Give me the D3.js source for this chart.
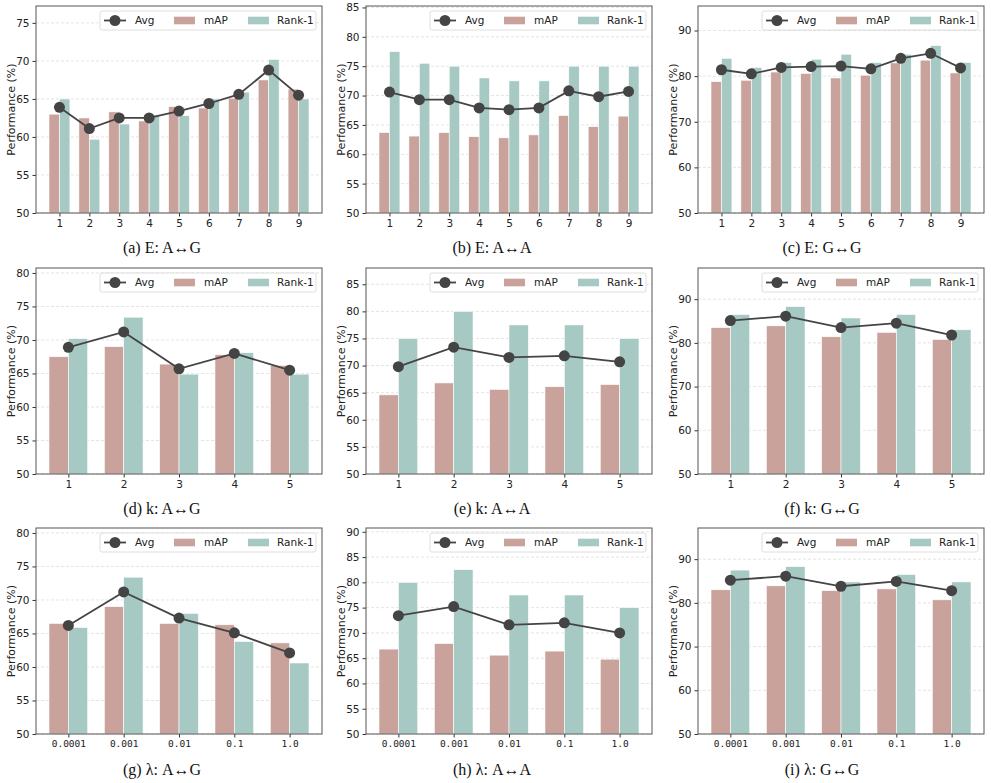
<!DOCTYPE html>
<html>
<head>
<meta charset="utf-8">
<script src="https://cdn.jsdelivr.net/npm/d3@7"></script>
<style>
body{margin:0;background:#fff}
text{font-family:"DejaVu Sans",sans-serif}
</style>
</head>
<body>
<svg width="991" height="783"></svg>
<script>
// x 轴标签
var xLabelsE = ["1","2","3","4","5","6","7","8","9"];
var xLabelsK = ["1","2","3","4","5"];
var xLabelsL = ["0.0001","0.001","0.01","0.1","1.0"];

// (a) E: A<->G
var mapEAG  = [63.0, 62.5, 63.3, 62.1, 64.0, 63.8, 65.1, 67.5, 66.3];
var rankEAG = [65.0, 59.7, 61.7, 62.9, 62.8, 65.0, 65.9, 70.2, 65.0];
var avgEAG  = [63.9, 61.1, 62.5, 62.5, 63.4, 64.4, 65.6, 68.8, 65.5];
// (b) E: A<->A
var mapEAA  = [63.7, 63.1, 63.7, 63.0, 62.8, 63.3, 66.6, 64.7, 66.5];
var rankEAA = [77.5, 75.5, 75.0, 73.0, 72.5, 72.5, 75.0, 75.0, 75.0];
var avgEAA  = [70.6, 69.3, 69.3, 67.9, 67.6, 67.9, 70.8, 69.8, 70.7];
// (c) E: G<->G
var mapEGG  = [78.8, 79.1, 80.9, 80.6, 79.6, 80.2, 82.9, 83.5, 80.7];
var rankEGG = [83.9, 81.9, 83.0, 83.7, 84.8, 83.0, 84.8, 86.7, 83.0];
var avgEGG  = [81.4, 80.5, 81.9, 82.1, 82.2, 81.6, 83.9, 85.0, 81.8];
// (d) k: A<->G
var mapKAG  = [67.5, 69.0, 66.4, 67.8, 66.2];
var rankKAG = [70.2, 73.4, 64.9, 68.1, 64.9];
var avgKAG  = [68.9, 71.2, 65.7, 68.0, 65.5];
// (e) k: A<->A
var mapKAA  = [64.6, 66.8, 65.6, 66.1, 66.5];
var rankKAA = [75.0, 80.0, 77.5, 77.5, 75.0];
var avgKAA  = [69.8, 73.4, 71.5, 71.8, 70.7];
// (f) k: G<->G
var mapKGG  = [83.5, 83.9, 81.4, 82.4, 80.8];
var rankKGG = [86.5, 88.3, 85.7, 86.5, 83.0];
var avgKGG  = [85.1, 86.1, 83.5, 84.5, 81.8];
// (g) λ: A<->G
var mapLAG  = [66.5, 69.0, 66.5, 66.3, 63.6];
var rankLAG = [65.9, 73.4, 68.0, 63.8, 60.6];
var avgLAG  = [66.2, 71.2, 67.3, 65.1, 62.1];
// (h) λ: A<->A
var mapLAA  = [66.8, 67.9, 65.6, 66.4, 64.8];
var rankLAA = [80.0, 82.5, 77.5, 77.5, 75.0];
var avgLAA  = [73.4, 75.2, 71.6, 72.0, 70.0];
// (i) λ: G<->G
var mapLGG  = [83.0, 83.9, 82.8, 83.2, 80.7];
var rankLGG = [87.5, 88.3, 84.8, 86.5, 84.8];
var avgLGG  = [85.2, 86.1, 83.8, 84.9, 82.8];

var captions = ["(a) E: A↔G","(b) E: A↔A","(c) E: G↔G",
                "(d) k: A↔G","(e) k: A↔A","(f) k: G↔G",
                "(g) λ: A↔G","(h) λ: A↔A","(i) λ: G↔G"];
var yTickStep = [5, 5, 10, 5, 5, 10, 5, 5, 10];

var panels = [
  [xLabelsE, mapEAG, rankEAG, avgEAG],
  [xLabelsE, mapEAA, rankEAA, avgEAA],
  [xLabelsE, mapEGG, rankEGG, avgEGG],
  [xLabelsK, mapKAG, rankKAG, avgKAG],
  [xLabelsK, mapKAA, rankKAA, avgKAA],
  [xLabelsK, mapKGG, rankKGG, avgKGG],
  [xLabelsL, mapLAG, rankLAG, avgLAG],
  [xLabelsL, mapLAA, rankLAA, avgLAA],
  [xLabelsL, mapLGG, rankLGG, avgLGG]
];

var svg = d3.select('svg');
var colMap = '#c9a39b', colRank = '#a7c9c3', colAvg = '#444444';
// 每个子图的绘图区位置
var cols = [[36,322],[366,652],[698,984]];
var rows = [[6,213],[268,474],[528,734]];
var capX = [162, 492, 822];
var capY = [253, 514, 775];
var bw = 0.35;

panels.forEach(function(p, k) {
  var labels = p[0], mAP = p[1], rank = p[2], avg = p[3];
  var c = k % 3, r = Math.floor(k / 3);
  var x0 = cols[c][0], x1 = cols[c][1], y0 = rows[r][0], y1 = rows[r][1];
  var n = labels.length;
  var lo = 1 - bw, hi = n + bw, m = (hi - lo) * 0.05;
  var x = d3.scaleLinear().domain([lo - m, hi + m]).range([x0, x1]);
  var ymax = d3.max(mAP.concat(rank)) * 1.1;
  var y = d3.scaleLinear().domain([50, ymax]).range([y1, y0]);
  var ticks = d3.range(50, ymax + 0.01, yTickStep[k]);
  var idx = d3.range(1, n + 1);
  var g = svg.append('g');

  // 网格线
  g.selectAll('.grid').data(ticks).enter().append('line')
    .attr('x1', x0).attr('x2', x1)
    .attr('y1', d => y(d)).attr('y2', d => y(d))
    .attr('stroke', '#dddddd').attr('stroke-width', 0.8)
    .attr('stroke-dasharray', '3,2');

  // 柱子
  g.selectAll('.map').data(mAP).enter().append('rect')
    .attr('x', (d, i) => x(i + 1 - bw))
    .attr('width', (d, i) => x(i + 1) - x(i + 1 - bw))
    .attr('y', d => y(d)).attr('height', d => y1 - y(d))
    .attr('fill', colMap).attr('stroke', '#fff').attr('stroke-width', 0.6);
  g.selectAll('.rank').data(rank).enter().append('rect')
    .attr('x', (d, i) => x(i + 1))
    .attr('width', (d, i) => x(i + 1 + bw) - x(i + 1))
    .attr('y', d => y(d)).attr('height', d => y1 - y(d))
    .attr('fill', colRank).attr('stroke', '#fff').attr('stroke-width', 0.6);

  // 折线 + 圆点
  var line = d3.line().x((d, i) => x(i + 1)).y(d => y(d));
  g.append('path').datum(avg).attr('d', line)
    .attr('fill', 'none').attr('stroke', colAvg).attr('stroke-width', 1.8);
  g.selectAll('.pt').data(avg).enter().append('circle')
    .attr('cx', (d, i) => x(i + 1)).attr('cy', d => y(d)).attr('r', 5.5)
    .attr('fill', colAvg);

  // 坐标轴
  var yAxis = d3.axisLeft(y).tickValues(ticks).tickSize(3.5).tickPadding(3)
    .tickFormat(d3.format('d'));
  var xAxis = d3.axisBottom(x).tickValues(idx).tickSize(3.5).tickPadding(3)
    .tickFormat(d => labels[d - 1]);
  var ya = g.append('g').attr('transform', 'translate(' + x0 + ',0)').call(yAxis);
  var xa = g.append('g').attr('transform', 'translate(0,' + y1 + ')').call(xAxis);
  [ya, xa].forEach(function(a) {
    a.select('.domain').remove();
    a.selectAll('line').attr('stroke', '#333');
    a.selectAll('text').attr('fill', '#222').style('font-size', '10.5px')
      .style('font-family', '"DejaVu Sans",sans-serif');
  });
  if (labels === xLabelsL) {
    xa.selectAll('text').style('font-family', '"DejaVu Sans Mono",monospace').style('font-size', '9.5px');
  }

  // 边框
  g.append('rect').attr('x', x0).attr('y', y0)
    .attr('width', x1 - x0).attr('height', y1 - y0)
    .attr('fill', 'none').attr('stroke', '#555').attr('stroke-width', 1);

  // y 轴标题
  g.append('text')
    .attr('transform', 'translate(' + (x0 - 25) + ',' + ((y0 + y1) / 2) + ') rotate(-90)')
    .attr('text-anchor', 'middle').attr('dy', '0.35em')
    .style('font-size', '11px').attr('fill', '#222')
    .text('Performance (%)');

  // 图例
  var lx = x1 - 6 - 216, ly = y0 + 5;
  var leg = g.append('g').attr('transform', 'translate(' + lx + ',' + ly + ')');
  leg.append('rect').attr('width', 216).attr('height', 19).attr('rx', 2)
    .attr('fill', '#fff').attr('fill-opacity', 0.85)
    .attr('stroke', '#d5d5d5').attr('stroke-width', 0.8);
  leg.append('line').attr('x1', 4).attr('x2', 26).attr('y1', 9.5).attr('y2', 9.5)
    .attr('stroke', colAvg).attr('stroke-width', 1.8);
  leg.append('circle').attr('cx', 15).attr('cy', 9.5).attr('r', 5.5).attr('fill', colAvg);
  leg.append('rect').attr('x', 74).attr('y', 5.7).attr('width', 21).attr('height', 7.6).attr('fill', colMap);
  leg.append('rect').attr('x', 148).attr('y', 5.7).attr('width', 21).attr('height', 7.6).attr('fill', colRank);
  var legText = [['Avg', 35], ['mAP', 104], ['Rank-1', 177]];
  legText.forEach(function(t) {
    leg.append('text').attr('x', t[1]).attr('y', 9.5).attr('dy', '0.35em')
      .style('font-size', '10.5px').attr('fill', '#222').text(t[0]);
  });

  // 子图标题
  svg.append('text').attr('x', capX[c]).attr('y', capY[r])
    .attr('text-anchor', 'middle')
    .style('font-family', '"Liberation Serif","Times New Roman",serif')
    .style('font-size', '16px').attr('fill', '#111')
    .text(captions[k]);
});
</script>
</body>
</html>
